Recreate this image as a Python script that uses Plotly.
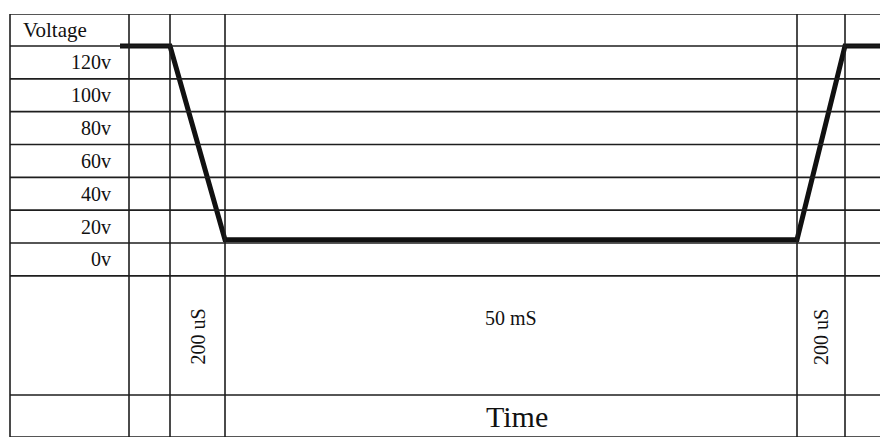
import plotly.graph_objects as go

# ---------------- data ----------------
voltage_levels = [0, 20, 40, 60, 80, 100, 120]
voltage_labels = ["0v", "20v", "40v", "60v", "80v", "100v", "120v"]
wave_voltage = [120, 120, 2, 2, 120, 120]
duration_labels = ["200 uS", "50 mS", "200 uS"]
y_title = "Voltage"
x_title = "Time"

# ---------------- layout constants (screen pixels) ----------------
W, H = 888, 441
PAGE_OFF = 8                               # default body margin of the html page
col_x = [10, 129, 170, 225, 797, 845]      # vertical table lines
wave_start_x, wave_end_x = 120, 888
top_px, v120_px, zero_px, bottom_px = 14, 46, 243, 437
label_row_bottom_px = 395
px_per_volt = (zero_px - v120_px) / 120.0


def px_to_v(py):
    return (zero_px - py) / px_per_volt


y_top = px_to_v(top_px)
y_bot = px_to_v(bottom_px)
row_step = voltage_levels[1] - voltage_levels[0]

fig = go.Figure()

line_col = "#1e1e1e"
shapes = []
h_lines = [y_top] + voltage_levels + [voltage_levels[0] - row_step,
                                      px_to_v(label_row_bottom_px), y_bot]
for yv in h_lines:
    shapes.append(dict(type="line", xref="x", yref="y", x0=col_x[0], x1=W + PAGE_OFF,
                       y0=yv, y1=yv, line=dict(color=line_col, width=1.6)))
for xv in col_x:
    shapes.append(dict(type="line", xref="x", yref="y", x0=xv, x1=xv,
                       y0=y_top, y1=y_bot, line=dict(color=line_col, width=1.6)))

wave_x = [wave_start_x, col_x[2], col_x[3], col_x[4], col_x[5], wave_end_x + PAGE_OFF]
fig.add_trace(go.Scatter(x=wave_x, y=wave_voltage, mode="lines",
                         line=dict(color="#111111", width=5),
                         hoverinfo="skip", showlegend=False))

font = "Liberation Serif, Times New Roman, serif"
ann = []
ann.append(dict(x=21, y=(y_top + voltage_levels[-1]) / 2, text=y_title,
                xanchor="left", yanchor="middle", showarrow=False,
                font=dict(family=font, size=21, color="#111")))
for v, lab in zip(voltage_levels, voltage_labels):
    ann.append(dict(x=113, y=v - row_step / 2, text=lab, xanchor="right",
                    yanchor="middle", showarrow=False,
                    font=dict(family=font, size=20, color="#111")))

rot_y = px_to_v(337)
ann.append(dict(x=(col_x[2] + col_x[3]) / 2, y=rot_y, text=duration_labels[0],
                textangle=-90, showarrow=False, xanchor="center", yanchor="middle",
                font=dict(family=font, size=20, color="#111")))
ann.append(dict(x=(col_x[3] + col_x[4]) / 2, y=px_to_v(318), text=duration_labels[1],
                showarrow=False, xanchor="center", yanchor="middle",
                font=dict(family=font, size=20, color="#111")))
ann.append(dict(x=(col_x[4] + col_x[5]) / 2, y=rot_y, text=duration_labels[2],
                textangle=-90, showarrow=False, xanchor="center", yanchor="middle",
                font=dict(family=font, size=20, color="#111")))
ann.append(dict(x=(col_x[3] + col_x[4]) / 2 + 6, y=px_to_v((label_row_bottom_px + bottom_px) / 2),
                text=x_title, showarrow=False, xanchor="center", yanchor="middle",
                font=dict(family=font, size=30, color="#111")))

fig.update_layout(
    width=W, height=H,
    margin=dict(l=0, r=0, t=top_px - PAGE_OFF, b=H - (bottom_px - PAGE_OFF)),
    paper_bgcolor="white", plot_bgcolor="white",
    xaxis=dict(range=[PAGE_OFF, W + PAGE_OFF], visible=False, fixedrange=True),
    yaxis=dict(range=[y_bot, y_top], visible=False, fixedrange=True),
    shapes=shapes, annotations=ann, showlegend=False,
)

fig.write_html("out.html")
